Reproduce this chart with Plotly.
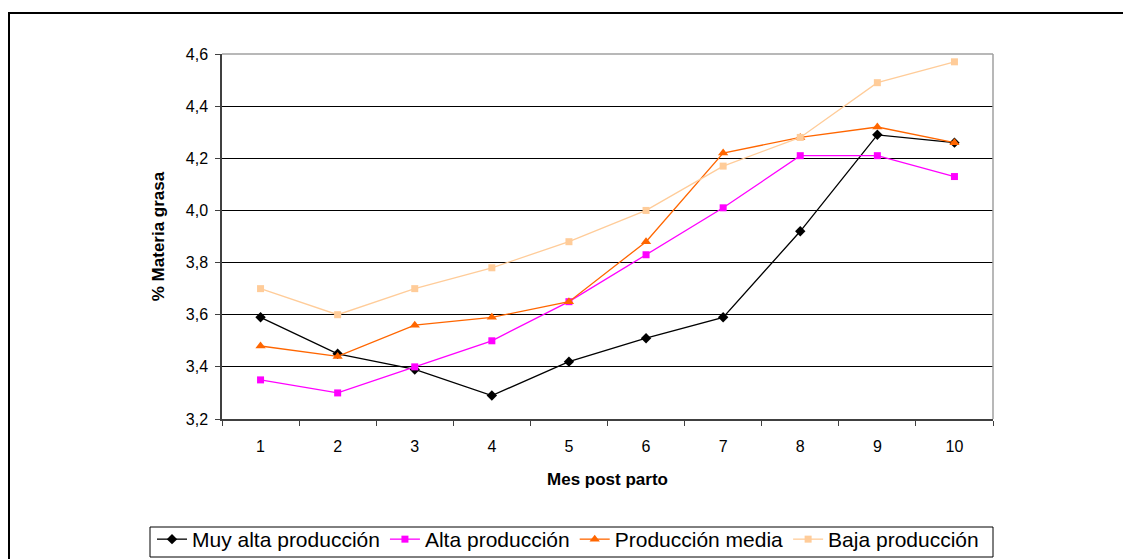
import plotly.graph_objects as go

meses = ["1", "2", "3", "4", "5", "6", "7", "8", "9", "10"]

muy_alta = [3.59, 3.45, 3.39, 3.29, 3.42, 3.51, 3.59, 3.92, 4.29, 4.26]
alta = [3.35, 3.30, 3.40, 3.50, 3.65, 3.83, 4.01, 4.21, 4.21, 4.13]
media = [3.48, 3.44, 3.56, 3.59, 3.65, 3.88, 4.22, 4.28, 4.32, 4.26]
baja = [3.70, 3.60, 3.70, 3.78, 3.88, 4.00, 4.17, 4.28, 4.49, 4.57]

series = [
    ("Muy alta producción", muy_alta, "#000000", "diamond", 8),
    ("Alta producción", alta, "#FF00FF", "square", 7),
    ("Producción media", media, "#FF6600", "triangle-up", 9),
    ("Baja producción", baja, "#FFCC99", "square", 7),
]

W, H = 1123, 559
L, R, T, B = 222, 993, 54, 419

fig = go.Figure()
for name, vals, color, sym, size in series:
    fig.add_trace(go.Scatter(
        x=meses, y=vals, name=name, mode="lines+markers",
        line=dict(color=color, width=1.3),
        marker=dict(symbol=sym, size=size, color=color),
    ))

def px_x(p):
    return (p - L) / (R - L)

def px_y(p):
    return (B - p) / (B - T)

shapes = [
    # outer chart frame
    dict(type="rect", xref="paper", yref="paper",
         x0=px_x(9), x1=px_x(1140), y0=px_y(580), y1=px_y(13),
         line=dict(color="#000000", width=2), layer="below"),
    # plot area border (top and right)
    dict(type="line", xref="paper", yref="paper", x0=0, x1=1, y0=1, y1=1,
         line=dict(color="#A0A0A0", width=1.5)),
    dict(type="line", xref="paper", yref="paper", x0=1, x1=1, y0=0, y1=1,
         line=dict(color="#A0A0A0", width=1.5)),
    # legend frame
    dict(type="rect", xref="paper", yref="paper",
         x0=px_x(150), x1=px_x(993), y0=px_y(557), y1=px_y(527),
         line=dict(color="#000000", width=1), fillcolor="white", layer="below"),
]

font = "Liberation Sans, Arial, sans-serif"

fig.update_layout(
    width=W, height=H,
    margin=dict(l=L, r=W - R, t=T, b=H - B, autoexpand=False),
    paper_bgcolor="white", plot_bgcolor="white",
    separators=",.",
    font=dict(family=font, size=16, color="#000000"),
    shapes=shapes,
    showlegend=True,
    legend=dict(
        orientation="h", x=px_x(152), y=px_y(519), xanchor="left", yanchor="top",
        borderwidth=0, bgcolor="rgba(0,0,0,0)",
        font=dict(family=font, size=21), itemwidth=30,
        tracegroupgap=0,
    ),
    xaxis=dict(
        type="category", range=[-0.5, 9.5], tickson="boundaries",
        ticks="outside", ticklen=5, ticklabelstandoff=12,
        tickcolor="#404040", showline=True, linecolor="#404040", linewidth=1.5,
        showgrid=False, tickfont=dict(size=16), automargin=False,
        title=dict(text="<b>Mes post parto</b>", font=dict(size=17), standoff=19),
    ),
    yaxis=dict(
        range=[3.2, 4.6], dtick=0.2, tickformat=".1f", ticks="outside", ticklen=5,
        ticklabelstandoff=4,
        tickcolor="#404040", showline=True, linecolor="#404040", linewidth=1.5,
        showgrid=True, gridcolor="#000000", gridwidth=1, zeroline=False,
        tickfont=dict(size=16), automargin=False,
        title=dict(text="<b>% Materia grasa</b>", font=dict(size=17), standoff=17),
    ),
)

fig.write_html("out.html")
